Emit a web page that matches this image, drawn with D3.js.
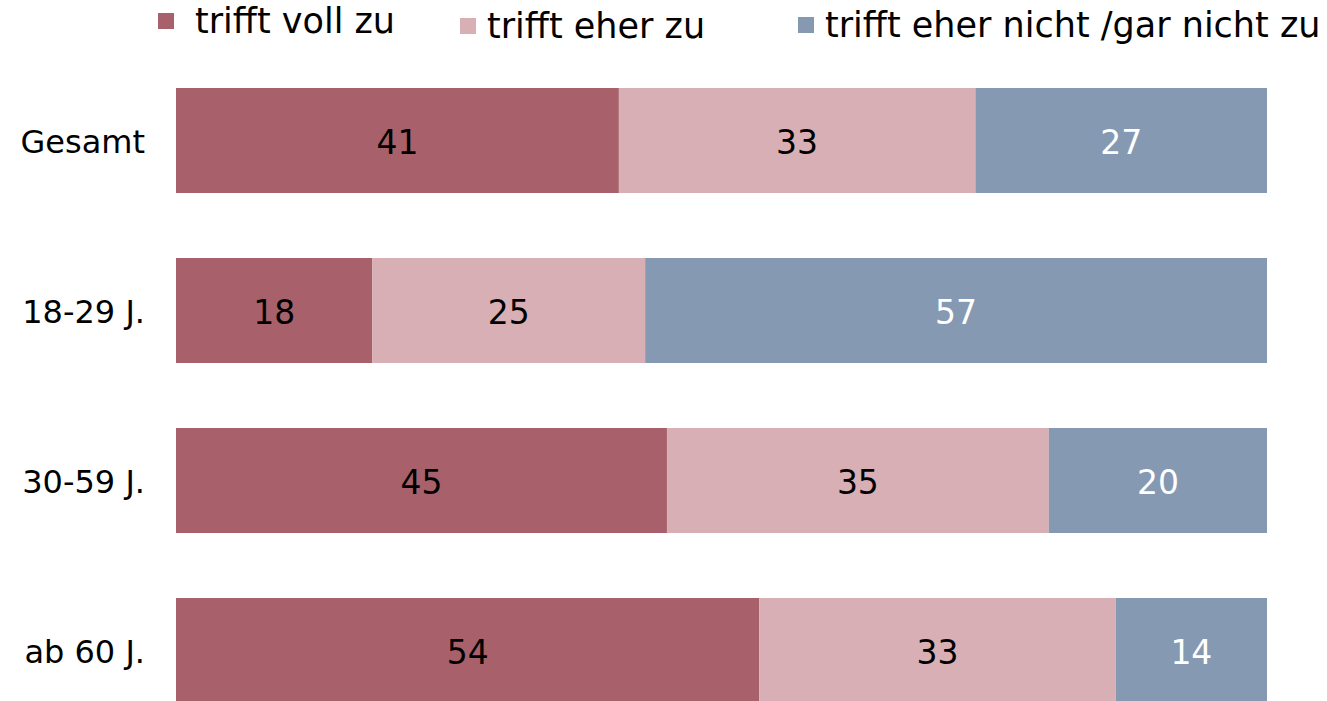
<!DOCTYPE html>
<html>
<head>
<meta charset="utf-8">
<script src="https://cdn.jsdelivr.net/npm/d3@7"></script>
<style>
  body { margin: 0; background: #fff; }
  text { font-family: "DejaVu Sans", Verdana, sans-serif; }
</style>
</head>
<body>
<svg id="chart"></svg>
<script>
// Daten
const categories = ["Gesamt", "18-29 J.", "30-59 J.", "ab 60 J."];
const seriesNames = ["trifft voll zu", "trifft eher zu", "trifft eher nicht /gar nicht zu"];
const vollZu = [41, 18, 45, 54];
const eherZu = [33, 25, 35, 33];
const nichtZu = [27, 57, 20, 14];

const colors = ["#a8616a", "#d7afb4", "#8699b2"];
const labelColors = ["#000", "#000", "#fff"];

const width = 1327;
const height = 701;

const svg = d3.select("#chart")
  .attr("width", width)
  .attr("height", height);

const series = [vollZu, eherZu, nichtZu];

// Zeilen aufbauen, je Balken auf 100% normiert
const rows = categories.map((c, i) => {
  const vals = series.map(s => s[i]);
  const total = d3.sum(vals);
  let acc = 0;
  return vals.map((v, k) => {
    const seg = { cat: c, k: k, value: v, x0: acc / total, x1: (acc + v) / total };
    acc += v;
    return seg;
  });
});

const xScale = d3.scaleLinear()
  .domain([0, 1])
  .range([176, 1267]);

const yScale = d3.scaleBand()
  .domain(categories)
  .range([88, 703])
  .paddingInner(65 / 170)
  .paddingOuter(0);

const segs = rows.flat();

svg.selectAll("rect.bar")
  .data(segs)
  .enter()
  .append("rect")
  .attr("class", "bar")
  .attr("x", d => xScale(d.x0))
  .attr("y", d => yScale(d.cat))
  .attr("width", d => xScale(d.x1) - xScale(d.x0))
  .attr("height", yScale.bandwidth())
  .attr("fill", d => colors[d.k]);

svg.selectAll("text.val")
  .data(segs)
  .enter()
  .append("text")
  .attr("class", "val")
  .attr("x", d => (xScale(d.x0) + xScale(d.x1)) / 2)
  .attr("y", d => yScale(d.cat) + yScale.bandwidth() / 2)
  .attr("dy", "0.4em")
  .attr("text-anchor", "middle")
  .attr("font-size", 33)
  .attr("fill", d => labelColors[d.k])
  .text(d => d.value);

// Kategorien
svg.selectAll("text.cat")
  .data(categories)
  .enter()
  .append("text")
  .attr("class", "cat")
  .attr("x", 145)
  .attr("y", d => yScale(d) + yScale.bandwidth() / 2)
  .attr("dy", "0.39em")
  .attr("text-anchor", "end")
  .attr("font-size", 32)
  .attr("fill", "#000")
  .text(d => d);

// Legende
const legendX = [158, 460, 798];
const legendY = [13, 18, 17];
const legendGap = [37, 27, 27];
const legend = svg.selectAll("g.leg")
  .data(seriesNames)
  .enter()
  .append("g")
  .attr("class", "leg")
  .attr("transform", (d, i) => `translate(${legendX[i]},${legendY[i]})`);

legend.append("rect")
  .attr("width", 16)
  .attr("height", 16)
  .attr("fill", (d, i) => colors[i]);

legend.append("text")
  .attr("x", (d, i) => legendGap[i])
  .attr("y", 20)
  .attr("font-size", 35)
  .attr("fill", "#000")
  .text(d => d);
</script>
</body>
</html>
